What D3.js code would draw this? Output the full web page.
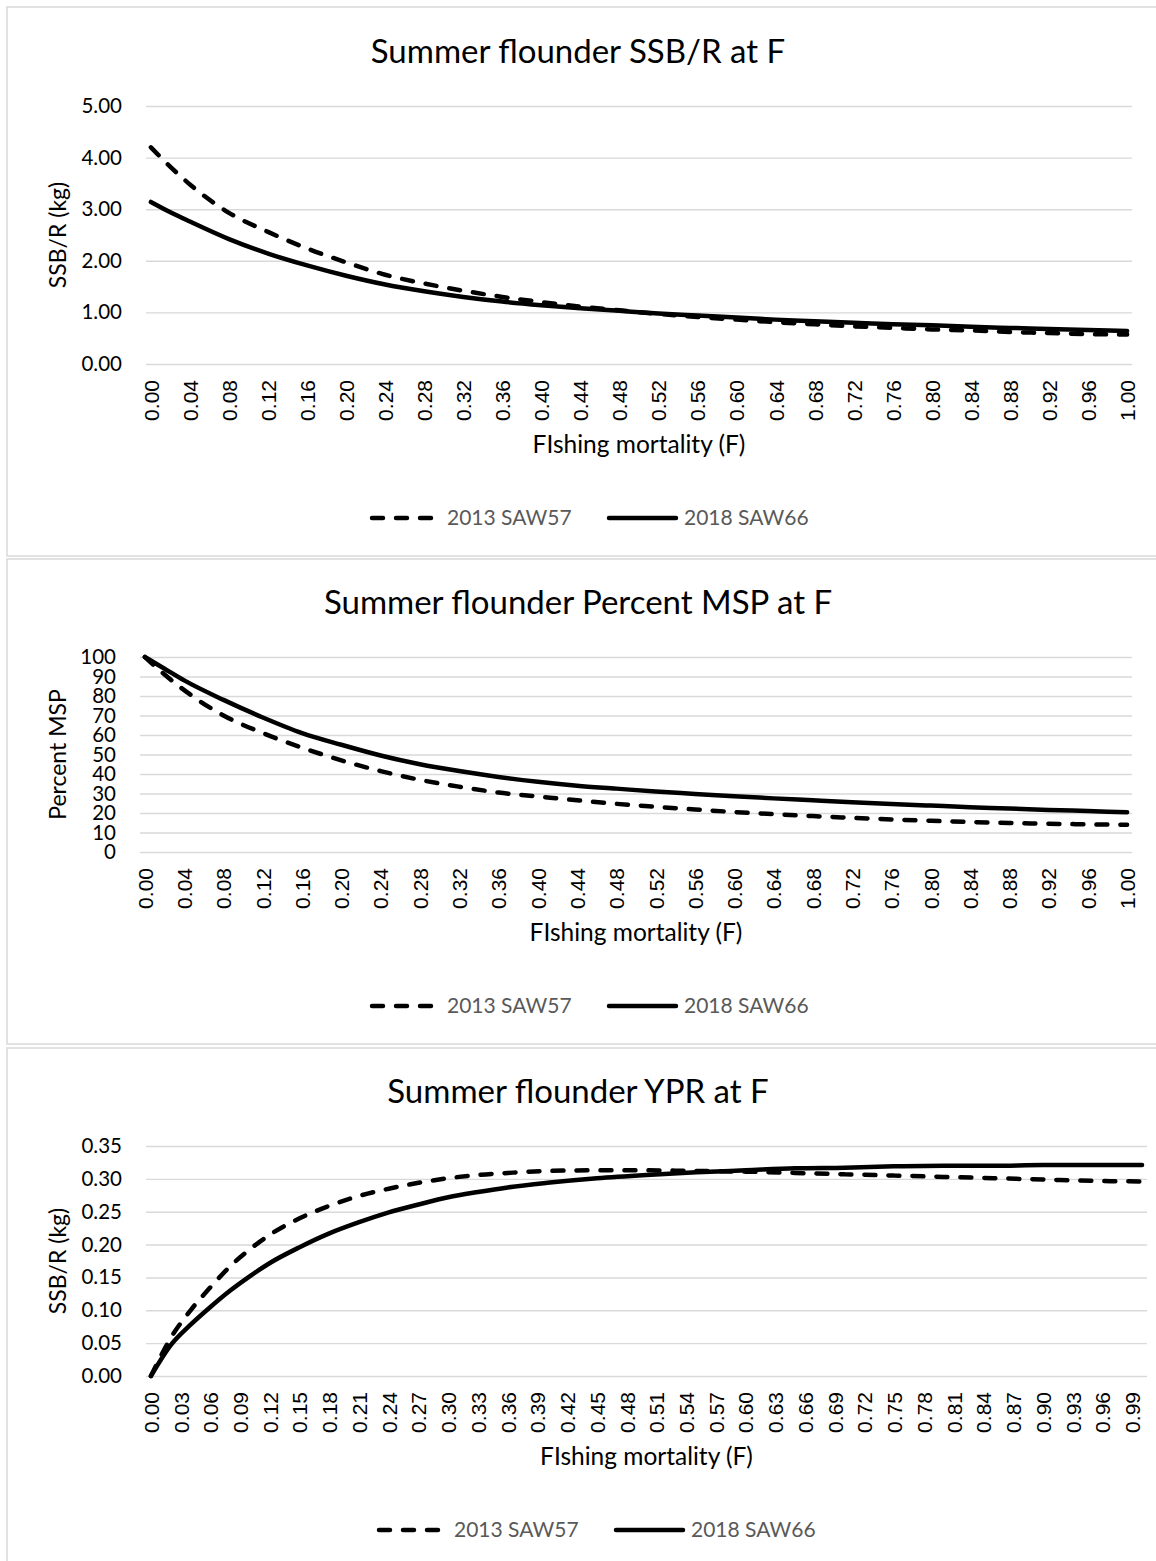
<!DOCTYPE html>
<html>
<head>
<meta charset="utf-8">
<script src="https://cdn.jsdelivr.net/npm/d3@7"></script>
<style>
  body { margin: 0; background: #fff; }
  svg text { font-family: Lato, "Open Sans", sans-serif; }
</style>
</head>
<body>
<div id="chart"></div>
<script>
// values, at these F values
const fSsb = [0, 0.02, 0.04, 0.08, 0.12, 0.16, 0.20, 0.24, 0.28, 0.32, 0.36, 0.40, 0.44, 0.48, 0.52, 0.56, 0.60, 0.64, 0.68, 0.72, 0.76, 0.80, 0.84, 0.88, 0.92, 0.96, 1.00];
const ssb2013 = [4.20, 3.82, 3.48, 2.93, 2.56, 2.24, 1.97, 1.73, 1.56, 1.42, 1.30, 1.20, 1.11, 1.04, 0.97, 0.91, 0.86, 0.81, 0.77, 0.73, 0.70, 0.67, 0.65, 0.62, 0.60, 0.58, 0.57];
const ssb2018 = [3.14, 2.94, 2.76, 2.42, 2.14, 1.91, 1.71, 1.54, 1.41, 1.30, 1.21, 1.14, 1.08, 1.03, 0.98, 0.94, 0.90, 0.86, 0.83, 0.80, 0.77, 0.75, 0.72, 0.70, 0.68, 0.66, 0.64];

const fMsp = fSsb;
const msp2013 = [100, 91, 83, 70, 61, 53.5, 47, 41.5, 37, 33.5, 30.5, 28.5, 26.5, 24.7, 23.2, 21.8, 20.5, 19.4, 18.4, 17.5, 16.7, 16, 15.4, 14.9, 14.5, 14.2, 14];
const msp2018 = [100, 94, 88, 78, 69, 61, 55, 49.5, 45, 41.5, 38.5, 36, 34, 32.5, 31, 29.8, 28.6, 27.5, 26.5, 25.5, 24.6, 23.8, 23, 22.3, 21.6, 21, 20.4];

const fYpr = [0, 0.02, 0.04, 0.06, 0.08, 0.10, 0.12, 0.15, 0.18, 0.21, 0.24, 0.27, 0.30, 0.33, 0.36, 0.40, 0.45, 0.50, 0.55, 0.60, 0.65, 0.70, 0.75, 0.80, 0.85, 0.90, 0.95, 1.00];
const ypr2013 = [0, 0.058, 0.100, 0.135, 0.167, 0.193, 0.215, 0.240, 0.259, 0.274, 0.285, 0.294, 0.301, 0.306, 0.309, 0.312, 0.313, 0.313, 0.312, 0.311, 0.309, 0.307, 0.305, 0.303, 0.301, 0.299, 0.297, 0.296];
const ypr2018 = [0, 0.047, 0.078, 0.105, 0.130, 0.152, 0.172, 0.196, 0.217, 0.234, 0.249, 0.261, 0.272, 0.280, 0.287, 0.294, 0.301, 0.306, 0.310, 0.313, 0.316, 0.317, 0.319, 0.320, 0.320, 0.321, 0.321, 0.321];

const seriesNames = ["2013 SAW57", "2018 SAW66"];

// tick labels
const xTicksEvery4 = d3.range(0, 26).map(i => i * 0.04);
const xTicksEvery3 = d3.range(0, 34).map(i => i * 0.03);
const yTicksSsb = [0, 1, 2, 3, 4, 5];
const yTicksMsp = [0, 10, 20, 30, 40, 50, 60, 70, 80, 90, 100];
const yTicksYpr = [0, 0.05, 0.10, 0.15, 0.20, 0.25, 0.30, 0.35];

const W = 1156, H = 1561;
const svg = d3.select("#chart").append("svg")
  .attr("width", W)
  .attr("height", H);

const panels = [
  { box: [7, 556], title: "Summer flounder SSB/R at F", ytitle: "SSB/R (kg)",
    left: 146, right: 1132, top: 106, bottom: 364, ymax: 5, yticks: yTicksSsb, yfmt: d3.format(".2f"),
    xticks: xTicksEvery4, f: fSsb, s1: ssb2013, s2: ssb2018, legendX: 370 },
  { box: [559, 1044], title: "Summer flounder Percent MSP at F", ytitle: "Percent MSP",
    left: 140, right: 1132, top: 657, bottom: 852, ymax: 100, yticks: yTicksMsp, yfmt: d3.format("d"),
    xticks: xTicksEvery4, f: fMsp, s1: msp2013, s2: msp2018, legendX: 370 },
  { box: [1048, 1700], title: "Summer flounder YPR at F", ytitle: "SSB/R (kg)",
    left: 146, right: 1147, top: 1146, bottom: 1376, ymax: 0.35, yticks: yTicksYpr, yfmt: d3.format(".2f"),
    xticks: xTicksEvery3, f: fYpr, s1: ypr2013, s2: ypr2018, legendX: 377 }
];

const dash = "11,13";

panels.forEach(p => {
  const g = svg.append("g");

  g.append("rect")
    .attr("x", 7).attr("y", p.box[0])
    .attr("width", W + 20).attr("height", p.box[1] - p.box[0])
    .attr("fill", "#fff")
    .attr("stroke", "#d9d9d9")
    .attr("stroke-width", 1.5);

  // category axis, points centred in 101 slots
  const x = d3.scaleLinear().domain([-0.005, 1.005]).range([p.left, p.right]);
  const y = d3.scaleLinear().domain([0, p.ymax]).range([p.bottom, p.top]);

  const yAxis = g.append("g")
    .attr("transform", "translate(" + p.left + ",0)")
    .call(d3.axisLeft(y).tickValues(p.yticks).tickFormat(p.yfmt)
      .tickSizeInner(-(p.right - p.left)).tickSizeOuter(0).tickPadding(24));
  yAxis.select(".domain").remove();
  yAxis.selectAll("line").attr("stroke", "#d9d9d9").attr("stroke-width", 1.4);
  yAxis.selectAll("text")
    .attr("fill", "#000")
    .style("font-size", "20.5px");

  const xAxis = g.append("g")
    .attr("transform", "translate(0," + p.bottom + ")")
    .call(d3.axisBottom(x).tickValues(p.xticks).tickFormat(d3.format(".2f")).tickSize(0));
  xAxis.select(".domain").remove();
  xAxis.selectAll("text")
    .attr("transform", "rotate(-90)")
    .attr("x", -16)
    .attr("y", 0)
    .attr("dy", "0.35em")
    .attr("text-anchor", "end")
    .attr("fill", "#000")
    .style("font-family", "'Liberation Sans', Arial, sans-serif")
    .style("font-size", "21px");

  g.append("text")
    .attr("x", 578).attr("y", p.top - 43)
    .attr("text-anchor", "middle")
    .style("font-size", "33px")
    .text(p.title);

  g.append("text")
    .attr("transform", "translate(" + 58 + "," + (p.top + p.bottom) / 2 + ") rotate(-90)")
    .attr("text-anchor", "middle")
    .attr("dy", "0.35em")
    .style("font-size", "23px")
    .text(p.ytitle);

  g.append("text")
    .attr("x", (p.left + p.right) / 2).attr("y", p.bottom + 89)
    .attr("text-anchor", "middle")
    .style("font-size", "24.5px")
    .text("FIshing mortality (F)");

  const line = d3.line()
    .x((d, i) => x(p.f[i]))
    .y(d => y(d))
    .curve(d3.curveMonotoneX);

  g.append("path")
    .attr("d", line(p.s1))
    .attr("fill", "none")
    .attr("stroke", "#000")
    .attr("stroke-width", 4.5)
    .attr("stroke-dasharray", dash)
    .attr("stroke-linecap", "round");

  g.append("path")
    .attr("d", line(p.s2))
    .attr("fill", "none")
    .attr("stroke", "#000")
    .attr("stroke-width", 4.5)
    .attr("stroke-linecap", "round");

  // legend
  const ly = p.bottom + 154;
  const lg = g.append("g").attr("transform", "translate(" + p.legendX + "," + ly + ")");
  lg.append("line")
    .attr("x1", 2).attr("x2", 62).attr("y1", 0).attr("y2", 0)
    .attr("stroke", "#000").attr("stroke-width", 4.5)
    .attr("stroke-dasharray", dash).attr("stroke-linecap", "round");
  lg.append("text")
    .attr("x", 77).attr("dy", "0.35em")
    .attr("fill", "#595959")
    .style("font-size", "21px")
    .text(seriesNames[0]);
  lg.append("line")
    .attr("x1", 239).attr("x2", 306).attr("y1", 0).attr("y2", 0)
    .attr("stroke", "#000").attr("stroke-width", 4.5)
    .attr("stroke-linecap", "round");
  lg.append("text")
    .attr("x", 314).attr("dy", "0.35em")
    .attr("fill", "#595959")
    .style("font-size", "21px")
    .text(seriesNames[1]);
});
</script>
</body>
</html>
